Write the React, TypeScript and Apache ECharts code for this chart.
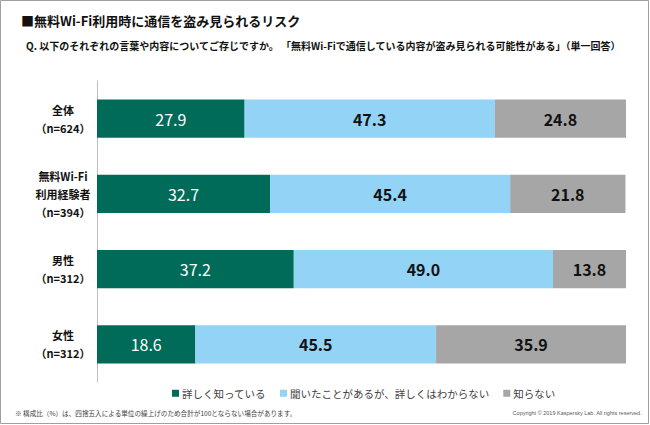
import React, { useEffect, useRef } from "react";
import * as echarts from "echarts";

const categories = ["全体\n（n=624）", "無料Wi-Fi\n利用経験者\n（n=394）", "男性\n（n=312）", "女性\n（n=312）"];
const seriesNames = ["詳しく知っている", "聞いたことがあるが、詳しくはわからない", "知らない"];
const knowWell = [27.9, 32.7, 37.2, 18.6];
const heardOnly = [47.3, 45.4, 49.0, 45.5];
const dontKnow = [24.8, 21.8, 13.8, 35.9];
const colors = ["#006B58", "#93D3F5", "#A6A6A6"];
const labelColors = ["#ffffff", "#111111", "#111111"];
const labelWeights = ["normal", "bold", "bold"];

const titleText = "■無料Wi-Fi利用時に通信を盗み見られるリスク";
const subtitleText = "Q. 以下のそれぞれの言葉や内容についてご存じですか。 「無料Wi-Fiで通信している内容が盗み見られる可能性がある」（単一回答）";
const noteText = "※ 構成比（%）は、四捨五入による単位の繰上げのため合計が100とならない場合があります。";
const copyrightText = "Copyright © 2019 Kaspersky Lab. All rights reserved.";

const FONT = "'Noto Sans CJK JP', 'Noto Sans', sans-serif";

export default function App() {
  const ref = useRef<HTMLDivElement>(null);
  useEffect(() => {
    if (!ref.current) return;
    const chart = echarts.init(ref.current, undefined, { renderer: "svg" });
    const data = [knowWell, heardOnly, dontKnow];
    chart.setOption({
      animation: false,
      backgroundColor: "#ffffff",
      textStyle: { fontFamily: FONT },
      grid: { left: 97, right: 24, top: 81, bottom: 43 },
      xAxis: {
        type: "value",
        min: 0,
        max: 100,
        show: false,
      },
      yAxis: {
        type: "category",
        data: categories,
        inverse: true,
        axisLine: { show: true, lineStyle: { color: "#BFBFBF", width: 1 } },
        axisTick: { show: false },
        axisLabel: {
          align: "center",
          margin: 34,
          fontSize: 11,
          fontWeight: "bold",
          color: "#111111",
          lineHeight: 18,
          fontFamily: FONT,
        },
      },
      legend: {
        data: seriesNames,
        left: 167,
        top: 383,
        itemWidth: 7,
        itemHeight: 7,
        itemGap: 14,
        icon: "rect",
        textStyle: { fontSize: 10.5, color: "#404040", fontFamily: FONT, padding: [0, 0, 0, -2] },
      },
      series: seriesNames.map((name, i) => ({
        name,
        type: "bar",
        stack: "total",
        barWidth: "51%",
        data: data[i],
        itemStyle: { color: colors[i] },
        label: {
          show: true,
          position: "inside",
          fontSize: 16,
          fontWeight: labelWeights[i],
          color: labelColors[i],
          fontFamily: FONT,
          formatter: (p: any) => Number(p.value).toFixed(1),
        },
      })),
      graphic: [
        {
          type: "rect",
          shape: { x: 0.5, y: 0.5, width: 648, height: 423 },
          style: { fill: "none", stroke: "#A0A0A0", lineWidth: 1 },
          silent: true,
        },
        {
          type: "text",
          left: 21,
          top: 14,
          style: { text: titleText, fontSize: 13, fontWeight: "bold", fill: "#111111", fontFamily: FONT },
        },
        {
          type: "text",
          left: 26,
          top: 40,
          style: { text: subtitleText, fontSize: 10, fontWeight: "bold", fill: "#111111", fontFamily: FONT },
        },
        {
          type: "text",
          left: 15,
          top: 410,
          style: { text: noteText, fontSize: 6.6, fill: "#404040", fontFamily: FONT },
        },
        {
          type: "text",
          right: 8,
          top: 410,
          style: { text: copyrightText, fontSize: 5.5, fill: "#595959", fontFamily: "'Liberation Sans', sans-serif" },
        },
      ],
    });
    return () => chart.dispose();
  }, []);
  return <div ref={ref} style={{ position: "fixed", left: 0, top: 0, width: 650, height: 425 }} />;
}
